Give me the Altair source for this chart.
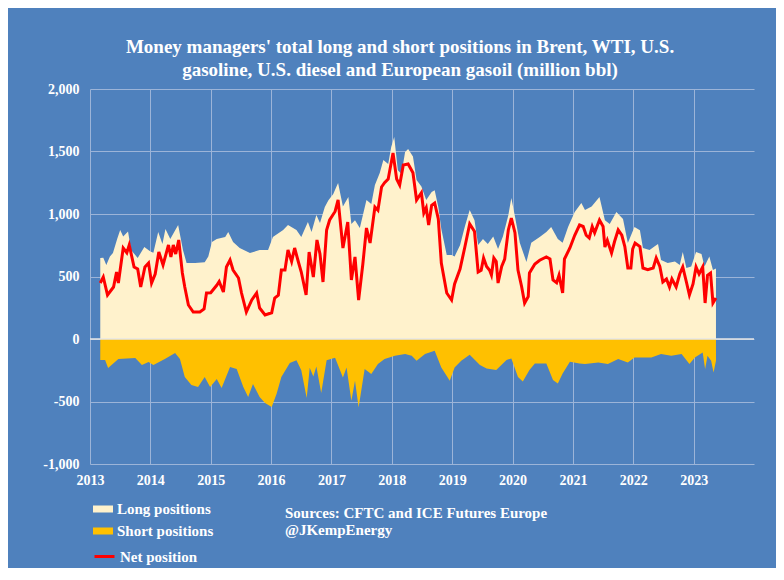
import altair as alt
import pandas as pd

# ---- data (fractional year, million bbl) ----
long_t = [2013.17, 2013.22, 2013.27, 2013.33, 2013.38, 2013.45, 2013.50, 2013.55, 2013.63, 2013.68,
          2013.79, 2013.90, 2014.00, 2014.05, 2014.13, 2014.20, 2014.25, 2014.33, 2014.46, 2014.54,
          2014.60, 2014.74, 2014.90, 2014.96, 2015.02, 2015.10, 2015.24, 2015.29, 2015.37, 2015.48,
          2015.65, 2015.81, 2015.95, 2016.03, 2016.20, 2016.28, 2016.42, 2016.50, 2016.61, 2016.67,
          2016.75, 2016.81, 2016.89, 2016.95, 2017.03, 2017.08, 2017.11, 2017.19, 2017.28, 2017.33,
          2017.39, 2017.47, 2017.58, 2017.66, 2017.72, 2017.80, 2017.86, 2017.94, 2017.99, 2018.04,
          2018.10, 2018.16, 2018.22, 2018.27, 2018.35, 2018.41, 2018.49, 2018.57, 2018.66, 2018.71,
          2018.77, 2018.82, 2018.91, 2018.99, 2019.04, 2019.13, 2019.21, 2019.29, 2019.37, 2019.43,
          2019.51, 2019.59, 2019.68, 2019.76, 2019.84, 2019.93, 2019.98, 2020.04, 2020.12, 2020.23,
          2020.31, 2020.45, 2020.56, 2020.64, 2020.75, 2020.83, 2020.92, 2021.03, 2021.14, 2021.20,
          2021.31, 2021.44, 2021.53, 2021.61, 2021.72, 2021.83, 2021.91, 2022.02, 2022.11, 2022.16,
          2022.27, 2022.35, 2022.41, 2022.46, 2022.57, 2022.69, 2022.77, 2022.82, 2022.88, 2022.96,
          2023.04, 2023.13, 2023.18, 2023.26, 2023.32, 2023.37]
long_v = [648, 650, 592, 660, 688, 800, 872, 820, 860, 712,
          648, 736, 700, 690, 856, 760, 880, 800, 912, 712,
          608, 608, 615, 660, 776, 800, 816, 856, 776, 728,
          688, 712, 712, 816, 872, 912, 872, 816, 936, 856,
          992, 928, 1056, 1110, 1160, 1216, 1248, 1060, 1136, 920,
          950, 888, 1112, 1080, 1232, 1328, 1432, 1400, 1536, 1616,
          1350, 1320, 1496, 1520, 1460, 1272, 1220, 1112, 1176, 1190,
          1056, 880, 672, 672, 660, 750, 900, 1032, 950, 752,
          800, 760, 820, 720, 820, 990, 1128, 980, 770, 616,
          770, 816, 856, 896, 800, 770, 896, 1016, 1088, 1032,
          1060, 1136, 950, 920, 1016, 960, 768, 896, 870, 728,
          712, 740, 760, 632, 608, 620, 592, 696, 568, 580,
          696, 680, 580, 660, 552, 565]

short_t = [2013.17, 2013.25, 2013.30, 2013.47, 2013.75, 2013.86, 2013.97, 2014.05, 2014.24, 2014.41,
           2014.49, 2014.57, 2014.68, 2014.79, 2014.90, 2014.99, 2015.10, 2015.18, 2015.32, 2015.43,
           2015.54, 2015.62, 2015.70, 2015.81, 2015.90, 2016.01, 2016.09, 2016.17, 2016.31, 2016.42,
           2016.50, 2016.59, 2016.64, 2016.70, 2016.75, 2016.83, 2016.92, 2017.06, 2017.19, 2017.25,
           2017.33, 2017.39, 2017.45, 2017.55, 2017.66, 2017.77, 2017.88, 2018.05, 2018.22, 2018.33,
           2018.41, 2018.55, 2018.71, 2018.82, 2018.96, 2019.04, 2019.15, 2019.29, 2019.46, 2019.57,
           2019.73, 2019.90, 2019.98, 2020.09, 2020.17, 2020.28, 2020.37, 2020.56, 2020.67, 2020.75,
           2020.83, 2020.95, 2021.11, 2021.20, 2021.42, 2021.58, 2021.75, 2021.91, 2022.02, 2022.30,
           2022.46, 2022.63, 2022.80, 2022.93, 2023.02, 2023.15, 2023.19, 2023.23, 2023.29, 2023.33,
           2023.37]
short_v = [-168, -168, -232, -160, -152, -208, -184, -208, -160, -112,
           -160, -304, -368, -384, -304, -384, -320, -392, -224, -240,
           -384, -464, -360, -464, -512, -544, -440, -304, -192, -170,
           -250, -472, -230, -300, -220, -432, -170, -150, -307, -227,
           -493, -333, -547, -240, -280, -200, -160, -133, -120, -133,
           -173, -120, -93, -227, -333, -227, -173, -125, -208, -235,
           -248, -168, -155, -304, -340, -248, -195, -195, -328, -355,
           -275, -182, -195, -200, -187, -200, -160, -187, -147, -147,
           -120, -133, -120, -200, -147, -107, -240, -133, -173, -267,
           -173]

net_t = [2013.17, 2013.22, 2013.29, 2013.39, 2013.44, 2013.47, 2013.55, 2013.61, 2013.65, 2013.73,
         2013.79, 2013.84, 2013.91, 2013.97, 2014.02, 2014.08, 2014.14, 2014.21, 2014.30, 2014.34,
         2014.38, 2014.42, 2014.47, 2014.53, 2014.57, 2014.63, 2014.71, 2014.82, 2014.89, 2014.93,
         2015.00, 2015.10, 2015.14, 2015.21, 2015.26, 2015.32, 2015.37, 2015.46, 2015.51, 2015.59,
         2015.68, 2015.76, 2015.81, 2015.90, 2016.01, 2016.06, 2016.12, 2016.17, 2016.23, 2016.28,
         2016.34, 2016.39, 2016.45, 2016.50, 2016.58, 2016.63, 2016.70, 2016.76, 2016.81, 2016.86,
         2016.92, 2016.97, 2017.06, 2017.11, 2017.19, 2017.27, 2017.33, 2017.39, 2017.45, 2017.52,
         2017.58, 2017.64, 2017.72, 2017.77, 2017.83, 2017.88, 2017.94, 2018.02, 2018.08, 2018.13,
         2018.19, 2018.27, 2018.35, 2018.41, 2018.49, 2018.53, 2018.57, 2018.61, 2018.66, 2018.71,
         2018.77, 2018.82, 2018.91, 2018.99, 2019.04, 2019.13, 2019.21, 2019.29, 2019.37, 2019.43,
         2019.48, 2019.52, 2019.57, 2019.62, 2019.65, 2019.69, 2019.73, 2019.76, 2019.82, 2019.87,
         2019.93, 2019.98, 2020.04, 2020.09, 2020.15, 2020.20, 2020.26, 2020.28, 2020.37, 2020.45,
         2020.56, 2020.62, 2020.67, 2020.73, 2020.77, 2020.83, 2020.86, 2020.95, 2021.03, 2021.11,
         2021.17, 2021.22, 2021.27, 2021.32, 2021.36, 2021.44, 2021.50, 2021.53, 2021.57, 2021.64,
         2021.69, 2021.75, 2021.81, 2021.86, 2021.91, 2021.96, 2021.99, 2022.03, 2022.11, 2022.16,
         2022.24, 2022.33, 2022.38, 2022.44, 2022.49, 2022.55, 2022.60, 2022.64, 2022.71, 2022.77,
         2022.82, 2022.88, 2022.93, 2022.99, 2023.04, 2023.09, 2023.15, 2023.19, 2023.23, 2023.28,
         2023.32, 2023.37]
net_v = [448, 496, 352, 416, 536, 448, 728, 690, 752, 576,
         560, 416, 576, 608, 448, 520, 696, 592, 752, 656,
         752, 680, 792, 528, 416, 272, 216, 216, 240, 368,
         370, 430, 460, 376, 576, 632, 552, 488, 368, 216,
         312, 368, 248, 192, 210, 328, 350, 552, 552, 712,
         620, 728, 620, 536, 352, 696, 496, 792, 680, 456,
         872, 952, 1020, 1112, 728, 936, 472, 656, 312, 600,
         888, 768, 1056, 1030, 1216, 1250, 1280, 1488, 1280, 1232,
         1392, 1400, 1330, 1112, 1170, 1008, 1050, 912, 1070, 1088,
         960, 608, 368, 312, 440, 560, 736, 920, 860, 536,
         550, 648, 580, 550, 512, 648, 620, 448, 580, 640,
         872, 968, 850, 552, 420, 288, 340, 528, 600, 630,
         656, 640, 472, 450, 510, 368, 640, 728, 830, 912,
         900, 830, 808, 900, 850, 952, 900, 736, 790, 688,
         780, 872, 830, 740, 568, 568, 720, 768, 740, 568,
         555, 568, 648, 580, 456, 480, 416, 480, 416, 520,
         576, 456, 352, 440, 576, 520, 576, 288, 510, 528,
         288, 328]

year_ticks = list(range(2013, 2024))
y_ticks = [-1000, -500, 0, 500, 1000, 1500, 2000]

title_lines = ["Money managers' total long and short positions in Brent, WTI, U.S.",
               "gasoline, U.S. diesel and European gasoil  (million bbl)"]
source_lines = ["Sources: CFTC and ICE Futures Europe", "@JKempEnergy"]

# ---- tables ----
area_df = pd.concat([
    pd.DataFrame({"t": long_t, "v": long_v, "series": "Long positions"}),
    pd.DataFrame({"t": short_t, "v": short_v, "series": "Short positions"}),
])
net_df = pd.DataFrame({"t": net_t, "v": net_v, "series": "Net position"})
zero_df = pd.DataFrame({"v": [0]})

FONT = "Liberation Serif"
BG = "#4F81BD"

x_scale = alt.Scale(domain=[2013, 2024], nice=False)
y_scale = alt.Scale(domain=[-1000, 2000], nice=False)

areas = alt.Chart(area_df).mark_area(interpolate="linear").encode(
    x=alt.X("t:Q", scale=x_scale,
            axis=alt.Axis(values=year_ticks, format="d", title=None, labelFlush=False)),
    y=alt.Y("v:Q", scale=y_scale, stack=None,
            axis=alt.Axis(values=y_ticks, format=",d", title=None, labelFlush=False,
                          labelPadding=11,
                          labelExpr="replace(datum.label, '\u2212', '-')")),
    fill=alt.Fill("series:N",
                  scale=alt.Scale(domain=["Long positions", "Short positions"],
                                  range=["#FFF2CC", "#FFC000"]),
                  legend=alt.Legend(orient="none", legendX=3, legendY=410, title=None,
                                    symbolType="M-1,-0.35H1V0.35H-1Z", symbolSize=400,
                                    symbolStrokeWidth=0, symbolOpacity=1, rowPadding=4,
                                    labelOffset=4)),
)

zero = alt.Chart(zero_df).mark_rule(color="#E6E6E6", strokeWidth=1.5).encode(
    y=alt.Y("v:Q", scale=y_scale)
)

net = alt.Chart(net_df).mark_line(strokeWidth=3, interpolate="linear").encode(
    x=alt.X("t:Q", scale=x_scale),
    y=alt.Y("v:Q", scale=y_scale),
    stroke=alt.Stroke("series:N",
                      scale=alt.Scale(domain=["Net position"], range=["#FF0000"]),
                      legend=alt.Legend(orient="none", legendX=3, legendY=456, title=None,
                                        symbolType="stroke", symbolSize=400,
                                        symbolStrokeWidth=3, labelOffset=4)),
)

src1 = alt.Chart(zero_df).mark_text(
    text=source_lines[0], align="left", baseline="middle", font=FONT,
    fontWeight="bold", fontSize=15, color="white"
).encode(x=alt.value(195), y=alt.value(424))
src2 = alt.Chart(zero_df).mark_text(
    text=source_lines[1], align="left", baseline="middle", font=FONT,
    fontWeight="bold", fontSize=15, color="white"
).encode(x=alt.value(195), y=alt.value(441))

chart = alt.layer(areas, zero, net, src1, src2).properties(
    width=664,
    height=375,
    padding={"left": 82, "top": 81, "right": 22, "bottom": 104},
    autosize=alt.AutoSizeParams(type="none"),
    background=BG,
    title=alt.Title(title_lines, font=FONT, fontSize=19, fontWeight="bold", color="white",
                    anchor="middle", dx=-22, dy=1, offset=3, lineHeight=23),
).configure_view(stroke=None).configure_axis(
    labelFont=FONT, labelFontSize=14, labelFontWeight="bold", labelColor="white",
    gridColor="#9CB4D8", gridWidth=1, domain=False, ticks=False, labelPadding=9,
).configure_legend(
    labelFont=FONT, labelFontSize=15, labelFontWeight="bold", labelColor="white", padding=0,
)

chart.save("out.html", embed_options={"renderer": "svg", "actions": False})
